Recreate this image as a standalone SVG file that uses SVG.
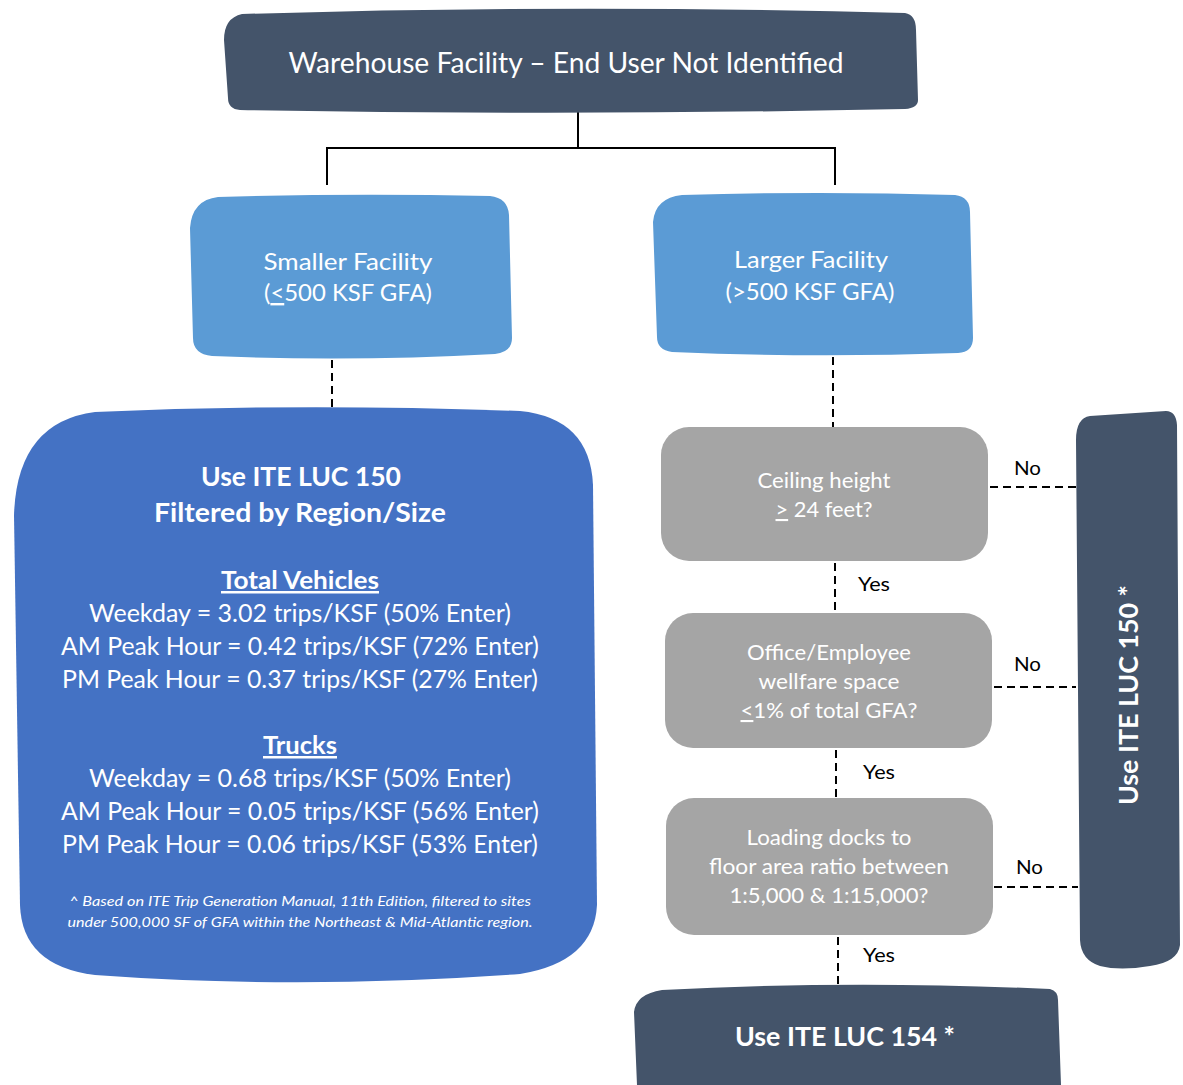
<svg xmlns="http://www.w3.org/2000/svg" width="1183" height="1085" viewBox="0 0 1183 1085">
<style>
.dark{fill:#44546A}
.lb{fill:#5B9BD5}
.blue{fill:#4472C4}
.gray{fill:#A5A5A5}
text{font-family:Lato,"Open Sans","Liberation Sans",sans-serif;fill:#fff;text-anchor:middle}
.b{font-weight:bold}
.lbl{fill:#000;text-anchor:start;font-size:20px}
.solid{stroke:#000;stroke-width:2;fill:none}
.dash{stroke:#000;stroke-width:2;fill:none;stroke-dasharray:8 5}
.u{text-decoration:underline}
</style>
<rect width="1183" height="1085" fill="#fff"/>
<g id="connectors">
<path class="solid" d="M578 112 V148 M327 148 H835 M327 147 V185 M835 147 V185"/>
<path class="dash" d="M332 360 V408"/>
<path class="dash" d="M833 357 V427"/>
<path class="dash" d="M835 563 V612"/>
<path class="dash" d="M836 750 V797"/>
<path class="dash" d="M838 937 V985"/>
<path class="dash" d="M990 487 H1076"/>
<path class="dash" d="M994 687 H1076"/>
<path class="dash" d="M994 887 H1078"/>
<text class="lbl" x="1014" y="475" textLength="27" lengthAdjust="spacingAndGlyphs">No</text>
<text class="lbl" x="1014" y="671" textLength="27" lengthAdjust="spacingAndGlyphs">No</text>
<text class="lbl" x="1016" y="874" textLength="27" lengthAdjust="spacingAndGlyphs">No</text>
<text class="lbl" x="858" y="591" textLength="32" lengthAdjust="spacingAndGlyphs">Yes</text>
<text class="lbl" x="863" y="779" textLength="32" lengthAdjust="spacingAndGlyphs">Yes</text>
<text class="lbl" x="863" y="962" textLength="32" lengthAdjust="spacingAndGlyphs">Yes</text>
</g>
<g id="top">
<path class="dark" d="M242 14 Q570 4 905 13 Q916 15 916 30 L918 100 Q918 108 905 109 Q570 116 240 110 Q228 109 228 98 L224 40 Q224 18 242 14 Z"/>
<text x="566" y="73" font-size="28" textLength="555" lengthAdjust="spacingAndGlyphs">Warehouse Facility – End User Not Identified</text>
</g>
<g id="smaller">
<path class="lb" d="M218 197 Q350 193 490 196 Q508 198 509 215 L512 338 Q512 352 495 354 Q350 362 212 356 Q193 354 193 338 L190 228 Q192 200 218 197 Z"/>
<text x="348" y="270" font-size="24" textLength="169" lengthAdjust="spacingAndGlyphs">Smaller Facility</text>
<text x="348" y="301" font-size="24" textLength="168" lengthAdjust="spacingAndGlyphs">(<tspan class="u">&lt;</tspan>500 KSF GFA)</text>
</g>
<g id="larger">
<path class="lb" d="M682 195 Q820 191 955 195 Q970 197 970 212 L973 338 Q973 352 958 353 Q810 358 672 352 Q657 350 657 337 L653 222 Q655 198 682 195 Z"/>
<text x="811" y="268" font-size="24" textLength="154" lengthAdjust="spacingAndGlyphs">Larger Facility</text>
<text x="810" y="300" font-size="24" textLength="169" lengthAdjust="spacingAndGlyphs">(&gt;500 KSF GFA)</text>
</g>
<g id="luc150-filtered">
<path class="blue" d="M95 412 Q300 403 520 411 Q590 418 593 485 L597 905 Q594 962 520 974 Q300 990 95 975 Q22 966 20 905 L14 515 Q17 422 95 412 Z"/>
<text class="b" x="301" y="486" font-size="26" textLength="200" lengthAdjust="spacingAndGlyphs">Use ITE LUC 150</text>
<text class="b" x="300" y="522" font-size="26" textLength="292" lengthAdjust="spacingAndGlyphs">Filtered by Region/Size</text>
<text class="b u" x="300" y="589" font-size="25" textLength="158" lengthAdjust="spacingAndGlyphs">Total Vehicles</text>
<text x="300" y="622" font-size="25" textLength="422" lengthAdjust="spacingAndGlyphs">Weekday = 3.02 trips/KSF (50% Enter)</text>
<text x="300" y="655" font-size="25" textLength="478" lengthAdjust="spacingAndGlyphs">AM Peak Hour = 0.42 trips/KSF (72% Enter)</text>
<text x="300" y="688" font-size="25" textLength="476" lengthAdjust="spacingAndGlyphs">PM Peak Hour = 0.37 trips/KSF (27% Enter)</text>
<text class="b u" x="300" y="754" font-size="25" textLength="74" lengthAdjust="spacingAndGlyphs">Trucks</text>
<text x="300" y="787" font-size="25" textLength="422" lengthAdjust="spacingAndGlyphs">Weekday = 0.68 trips/KSF (50% Enter)</text>
<text x="300" y="820" font-size="25" textLength="478" lengthAdjust="spacingAndGlyphs">AM Peak Hour = 0.05 trips/KSF (56% Enter)</text>
<text x="300" y="853" font-size="25" textLength="476" lengthAdjust="spacingAndGlyphs">PM Peak Hour = 0.06 trips/KSF (53% Enter)</text>
<text x="300" y="906" font-size="14" font-style="italic" textLength="462" lengthAdjust="spacingAndGlyphs">^ Based on ITE Trip Generation Manual, 11th Edition, filtered to sites</text>
<text x="300" y="927" font-size="14" font-style="italic" textLength="465" lengthAdjust="spacingAndGlyphs">under 500,000 SF of GFA within the Northeast &amp; Mid-Atlantic region.</text>
</g>
<g id="ceiling">
<rect class="gray" x="661" y="427" width="327" height="134" rx="28"/>
<text x="824" y="488" font-size="21" textLength="133" lengthAdjust="spacingAndGlyphs">Ceiling height</text>
<text x="824" y="517" font-size="21" textLength="97" lengthAdjust="spacingAndGlyphs"><tspan class="u">&gt;</tspan> 24 feet?</text>
</g>
<g id="office">
<rect class="gray" x="665" y="613" width="327" height="135" rx="28"/>
<text x="829" y="660" font-size="21" textLength="164" lengthAdjust="spacingAndGlyphs">Office/Employee</text>
<text x="829" y="689" font-size="21" textLength="141" lengthAdjust="spacingAndGlyphs">wellfare space</text>
<text x="829" y="718" font-size="21" textLength="177" lengthAdjust="spacingAndGlyphs"><tspan class="u">&lt;</tspan>1% of total GFA?</text>
</g>
<g id="loading">
<rect class="gray" x="666" y="798" width="327" height="137" rx="28"/>
<text x="829" y="845" font-size="21" textLength="165" lengthAdjust="spacingAndGlyphs">Loading docks to</text>
<text x="829" y="874" font-size="21" textLength="240" lengthAdjust="spacingAndGlyphs">floor area ratio between</text>
<text x="829" y="903" font-size="21" textLength="199" lengthAdjust="spacingAndGlyphs">1:5,000 &amp; 1:15,000?</text>
</g>
<g id="luc150">
<path class="dark" d="M1090 416 L1166 411 Q1176 411 1177 425 L1180 945 Q1178 962 1150 966 Q1120 971 1100 966 Q1081 960 1080 940 L1076 440 Q1076 418 1090 416 Z"/>
<text class="b" transform="translate(1138 695) rotate(-90)" x="0" y="0" font-size="26" textLength="220" lengthAdjust="spacingAndGlyphs">Use ITE LUC 150 *</text>
</g>
<g id="luc154">
<path class="dark" d="M662 990 Q850 980 1050 989 Q1058 991 1058 1000 L1061 1085 L637 1085 L634 1012 Q636 994 662 990 Z"/>
<text class="b" x="845" y="1046" font-size="26" textLength="220" lengthAdjust="spacingAndGlyphs">Use ITE LUC 154 *</text>
</g>
</svg>
